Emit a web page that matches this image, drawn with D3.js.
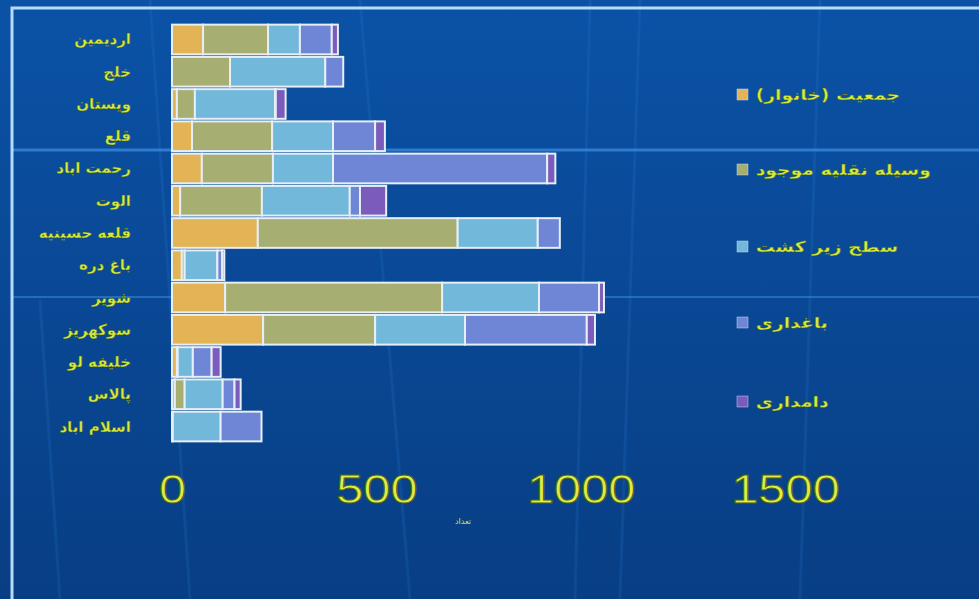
<!DOCTYPE html>
<html><head><meta charset="utf-8">
<script src="https://cdn.jsdelivr.net/npm/d3@7/dist/d3.min.js"></script>
<style>body{margin:0;background:#0a4a9a;}svg{display:block;}</style>
</head><body>
<svg id="c" width="979" height="599"></svg>
<script>
const categories = ["اردیمین","خلج","ویستان","قلع","رحمت اباد","الوت","قلعه حسینیه","باغ دره","شویر","سوکهریز","خلیفه لو","پالاس","اسلام اباد"];
const seriesNames = ["جمعیت (خانوار)","وسیله نقلیه موجود","سطح زیر کشت","باغداری","دامداری"];
const population = [76, 0, 12, 49, 73, 20, 210, 24, 130, 223, 12, 7, 2];
const vehicles   = [159, 142, 44, 196, 174, 200, 489, 7, 531, 274, 2, 24, 0];
const area       = [78, 233, 196, 149, 147, 215, 196, 80, 237, 220, 37, 93, 117];
const orchards   = [78, 44, 2, 103, 524, 25, 54, 12, 147, 298, 46, 29, 100];
const livestock  = [15, 0, 24, 24, 20, 64, 0, 5, 12, 20, 22, 15, 0];
const tickValues = [0, 500, 1000, 1500];
const axisTitle = "تعداد";
const colors = ["#e2b455","#a6ae72","#72b8da","#6f86d6","#7b5bbb"];

const svg = d3.select("#c");
const W = 979, H = 599;
const defs = svg.append("defs");
const bg = defs.append("linearGradient").attr("id","bg").attr("x1",0).attr("y1",0).attr("x2",0).attr("y2",1);
bg.append("stop").attr("offset","0%").attr("stop-color","#0b52a6");
bg.append("stop").attr("offset","100%").attr("stop-color","#083e84");
svg.append("rect").attr("width",W).attr("height",H).attr("fill","url(#bg)");
[[150,0,190,599],[360,0,410,599],[640,0,620,599],[820,0,800,599],[590,0,575,599],[40,300,60,599]].forEach(d=>{
  svg.append("line").attr("x1",d[0]).attr("y1",d[1]).attr("x2",d[2]).attr("y2",d[3])
    .attr("stroke","#2d7fd6").attr("stroke-opacity",0.18).attr("stroke-width",3);
});
svg.append("line").attr("x1",12).attr("x2",W).attr("y1",150).attr("y2",150).attr("stroke","#3d8fe6").attr("stroke-width",3).attr("stroke-opacity",0.7);
svg.append("line").attr("x1",12).attr("x2",W).attr("y1",297).attr("y2",297).attr("stroke","#3d8fe6").attr("stroke-width",2).attr("stroke-opacity",0.5);
svg.append("path").attr("d",`M12,${H} L12,8 L${W},8`).attr("fill","none").attr("stroke","#b5dcf6").attr("stroke-width",3);

const x = d3.scaleLinear().domain([0,1500]).range([172,785]);
const y = d3.scaleBand().domain(categories).range([24,442]).paddingInner(0.08).paddingOuter(0.02);

const rows = categories.map((c,i)=>({cat:c, s0:population[i], s1:vehicles[i], s2:area[i], s3:orchards[i], s4:livestock[i]}));
const layers = d3.stack().keys(["s0","s1","s2","s3","s4"])(rows);

svg.append("g").selectAll("g").data(layers).join("g")
  .attr("fill",(d,i)=>colors[i])
  .selectAll("rect").data(d=>d.filter(p=>p[1]-p[0]>0)).join("rect")
  .attr("x",d=>x(d[0])).attr("width",d=>x(d[1])-x(d[0]))
  .attr("y",d=>y(d.data.cat)).attr("height",y.bandwidth())
  .attr("stroke","#e6eef6").attr("stroke-width",2);

svg.append("g").selectAll("text").data(categories).join("text")
  .attr("x",131).attr("y",d=>y(d)+y.bandwidth()/2+5)
  .attr("text-anchor","end")
  .attr("font-family","DejaVu Sans, Noto Sans").attr("font-weight","bold").attr("font-size",15)
  .attr("fill","#d8ea3c").attr("stroke","#3a5a20").attr("stroke-width",0.4)
  .text(d=>d);

const ax = svg.append("g").attr("transform","translate(0,475)")
  .call(d3.axisBottom(x).tickValues(tickValues).tickSize(0).tickPadding(0).tickFormat(d3.format("d")));
ax.select(".domain").remove();
ax.selectAll("text").attr("font-family","Liberation Sans, Arial").attr("font-size",40)
  .attr("transform","scale(1.22,1)")
  .attr("fill","#e2ec45").attr("stroke","#4a6418").attr("stroke-width",1);
svg.append("text").attr("x",463).attr("y",524).attr("text-anchor","middle")
  .attr("font-family","DejaVu Sans").attr("font-size",8).attr("fill","#d8ea3c").text(axisTitle);

const ly = [95,170,247,323,402];
const lg = svg.append("g").selectAll("g").data(seriesNames).join("g")
  .attr("transform",(d,i)=>`translate(737,${ly[i]})`);
lg.append("rect").attr("x",0).attr("y",-6).attr("width",11).attr("height",11)
  .attr("fill",(d,i)=>colors[i]).attr("stroke","#c8d8e8").attr("stroke-width",0.5);
lg.append("text").attr("x",18).attr("y",5).attr("text-anchor","start")
  .attr("transform","scale(1.25,1)").attr("x",15)
  .attr("font-family","DejaVu Sans, Noto Sans").attr("font-weight","bold").attr("font-size",15)
  .attr("fill","#d8ea3c").attr("stroke","#3a5a20").attr("stroke-width",0.4)
  .text(d=>d);
</script>
</body></html>
